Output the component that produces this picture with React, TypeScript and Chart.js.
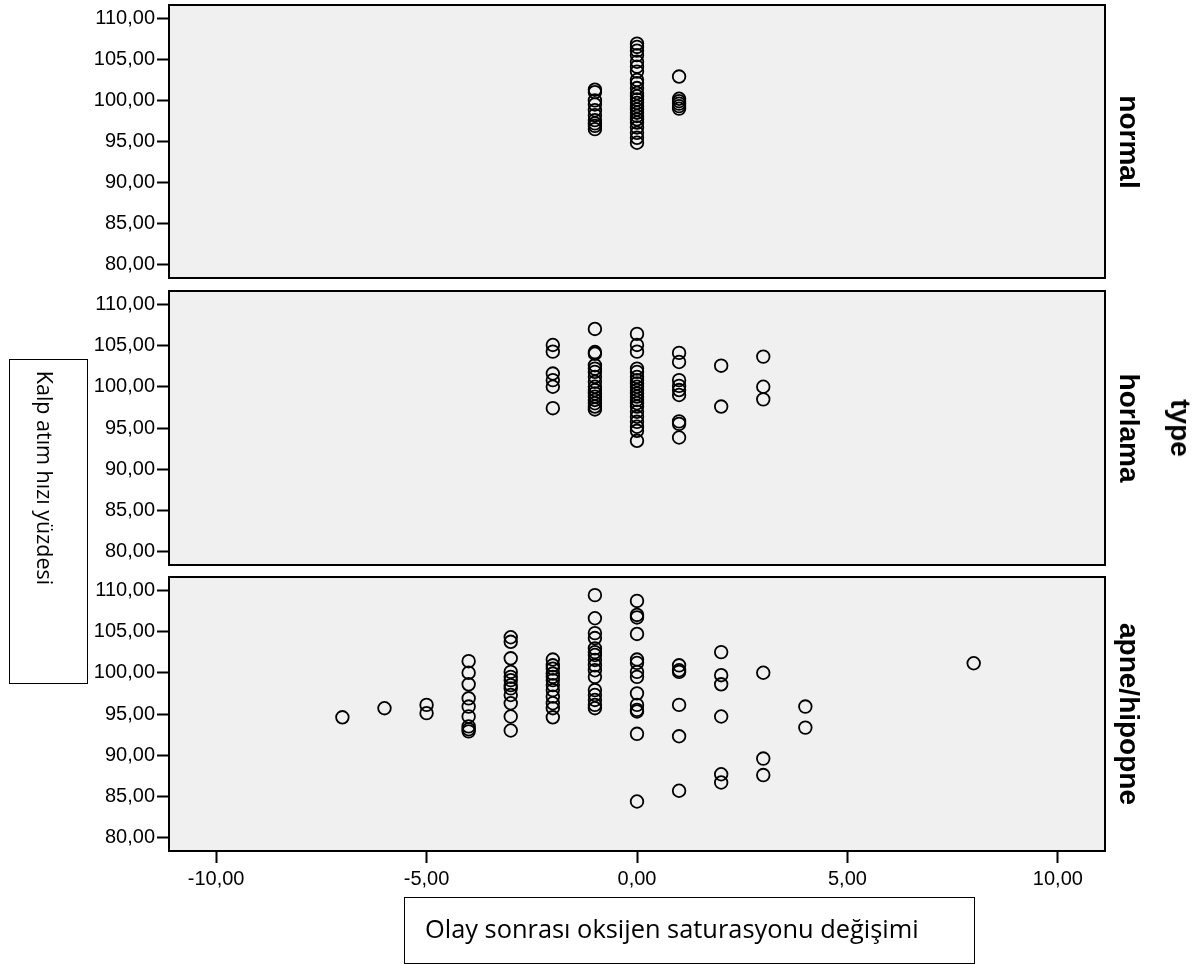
import React, { useEffect, useRef } from "react";
import { Chart, registerables } from "chart.js";

Chart.register(...registerables);

// ---- axis settings / labels ----
const xTickValues = [-10, -5, 0, 5, 10];
const yTickValues = [80, 85, 90, 95, 100, 105, 110];
const xMin = -11.12;
const xMax = 11.12;
const yMin = 78.4;
const yMax = 111.6;
const panelNames = ["normal", "horlama", "apne/hipopne"];
const facetTitle = "type";
const yTitle = "Kalp atım hızı yüzdesi";
const xTitle = "Olay sonrası oksijen saturasyonu değişimi";

// ---- data: x levels and the y values observed at each level ----
const normalX = [-1, 0, 1];
const normalY = [
  [101.3, 101.0, 100.0, 99.5, 98.8, 98.2, 97.6, 97.2, 96.9, 96.5],
  [106.9, 106.5, 106.05, 105.5, 104.7, 104.1, 103.5, 102.5, 102.1, 101.5, 100.9, 100.5, 100.1, 99.7, 99.3, 98.9, 98.5, 98.1, 97.7, 97.3, 96.7, 96.05, 95.45, 94.85],
  [102.9, 100.2, 99.9, 99.6, 99.3, 99.0],
];

const horlamaX = [-2, -1, 0, 1, 2, 3];
const horlamaY = [
  [105.06, 104.25, 101.6, 100.8, 100.0, 97.4],
  [107.0, 104.2, 104.0, 102.6, 102.2, 101.8, 101.2, 100.6, 100.0, 99.6, 99.2, 98.8, 98.4, 98.0, 97.6, 97.25],
  [106.4, 105.06, 104.25, 102.2, 101.8, 101.2, 100.8, 100.4, 100.0, 99.6, 99.2, 98.8, 98.4, 98.0, 97.6, 96.97, 96.36, 95.75, 95.15, 94.66, 93.45],
  [104.1, 103.0, 100.8, 100.1, 99.6, 99.0, 95.8, 95.5, 93.85],
  [102.55, 97.6],
  [103.65, 100.0, 98.47],
];

const apneX = [-7, -6, -5, -4, -3, -2, -1, 0, 1, 2, 3, 4, 8];
const apneY = [
  [94.6],
  [95.7],
  [96.1, 95.1],
  [101.4, 100.0, 98.6, 96.9, 95.9, 94.7, 93.5, 93.15, 92.9],
  [104.3, 103.75, 101.75, 100.1, 99.5, 99.1, 98.5, 98.1, 97.3, 96.3, 94.7, 93.0],
  [101.6, 100.9, 100.5, 99.9, 99.5, 99.1, 98.5, 97.9, 97.1, 96.3, 95.7, 94.6],
  [109.4, 106.6, 104.8, 104.2, 102.95, 102.5, 102.15, 101.55, 100.9, 100.3, 99.5, 97.9, 97.3, 96.7, 96.1, 95.7],
  [108.7, 107.0, 106.7, 104.7, 101.6, 101.2, 100.1, 99.5, 97.5, 96.1, 95.5, 95.3, 92.6, 84.4],
  [100.9, 100.3, 100.1, 96.1, 92.3, 85.7],
  [102.5, 99.7, 98.6, 94.7, 87.7, 86.7],
  [100.0, 89.6, 87.6],
  [95.9, 93.35],
  [101.15],
];

const panelXs = [normalX, horlamaX, apneX];
const panelYs = [normalY, horlamaY, apneY];

// ---- layout ----
const PLOT_LEFT = 169;
const PLOT_RIGHT = 1105;
const PAD_TOP = 16;
const panelTops = [5, 291, 577];
const panelHeights = [273, 274, 274];
const X_AXIS_H = 50;
const TICK_FONT = { family: "'Liberation Sans', Arial, sans-serif", size: 20 };

const fmt = (v: number) => Number(v).toFixed(2).replace(".", ",");

const framePlugin = {
  id: "panelFrame",
  beforeDraw(chart: any) {
    const { ctx, chartArea } = chart;
    ctx.save();
    ctx.fillStyle = "#f0f0f0";
    ctx.fillRect(chartArea.left, chartArea.top, chartArea.right - chartArea.left, chartArea.bottom - chartArea.top);
    ctx.restore();
  },
  afterDraw(chart: any) {
    const { ctx, chartArea } = chart;
    ctx.save();
    ctx.strokeStyle = "#000";
    ctx.lineWidth = 2;
    ctx.strokeRect(chartArea.left, chartArea.top, chartArea.right - chartArea.left, chartArea.bottom - chartArea.top);
    ctx.restore();
  },
};

function Panel({ index }: { index: number }) {
  const ref = useRef<HTMLCanvasElement | null>(null);
  const showX = index === 2;
  const top = panelTops[index] - PAD_TOP;
  const height = showX ? 964 - top : panelHeights[index] + 2 * PAD_TOP;
  const padBottom = showX ? height - PAD_TOP - panelHeights[index] - X_AXIS_H : PAD_TOP;

  useEffect(() => {
    if (!ref.current) return;
    const points: { x: number; y: number }[] = [];
    panelXs[index].forEach((xv, i) => {
      panelYs[index][i].forEach((yv) => points.push({ x: xv, y: yv }));
    });
    const chart = new Chart(ref.current, {
      type: "scatter",
      data: {
        datasets: [
          {
            data: points,
            pointStyle: "circle",
            pointRadius: 6.3,
            pointHoverRadius: 6.3,
            pointBorderWidth: 1.8,
            pointBackgroundColor: "rgba(0,0,0,0)",
            pointBorderColor: "#000",
            showLine: false,
          },
        ],
      },
      options: {
        animation: false,
        responsive: false,
        devicePixelRatio: 1,
        layout: { padding: { left: 0, right: 1200 - PLOT_RIGHT, top: PAD_TOP, bottom: padBottom } },
        plugins: { legend: { display: false }, tooltip: { enabled: false } },
        scales: {
          x: {
            type: "linear",
            display: showX,
            min: xMin,
            max: xMax,
            afterBuildTicks: (scale: any) => {
              scale.ticks = xTickValues.map((v) => ({ value: v }));
            },
            afterFit: (scale: any) => {
              scale.height = showX ? X_AXIS_H : 0;
            },
            border: { display: false },
            grid: { drawOnChartArea: false, drawTicks: true, tickLength: 12, tickWidth: 2, tickColor: "#000", color: "#000" },
            ticks: { color: "#000", font: TICK_FONT, padding: 4, maxRotation: 0, callback: (v: any) => fmt(v) },
          },
          y: {
            type: "linear",
            min: yMin,
            max: yMax,
            afterBuildTicks: (scale: any) => {
              scale.ticks = yTickValues.map((v) => ({ value: v }));
            },
            afterFit: (scale: any) => {
              scale.width = PLOT_LEFT;
            },
            border: { display: false },
            grid: { drawOnChartArea: false, drawTicks: true, tickLength: 12, tickWidth: 2, tickColor: "#000", color: "#000" },
            ticks: { color: "#000", font: TICK_FONT, padding: 2, callback: (v: any) => fmt(v) },
          },
        },
      },
      plugins: [framePlugin],
    } as any);
    return () => chart.destroy();
  }, [index]);

  return (
    <canvas
      ref={ref}
      width={1200}
      height={height}
      style={{ position: "absolute", left: 0, top, width: 1200, height }}
    />
  );
}

const rotLabel = (text: string, cx: number, cy: number, style: React.CSSProperties) => (
  <div
    style={{
      position: "absolute",
      left: cx,
      top: cy,
      transform: "translate(-50%, -50%) rotate(90deg)",
      whiteSpace: "nowrap",
      lineHeight: 1,
      color: "#000",
      ...style,
    }}
  >
    {text}
  </div>
);

export default function App() {
  const stripFont: React.CSSProperties = {
    fontFamily: "'Liberation Sans', Arial, sans-serif",
    fontWeight: "bold",
    fontSize: 28,
  };
  return (
    <div style={{ position: "absolute", left: 0, top: 0, width: 1200, height: 964, overflow: "hidden", background: "#fff" }}>
      <Panel index={0} />
      <Panel index={1} />
      <Panel index={2} />
      {panelNames.map((name, i) =>
        <React.Fragment key={name}>
          {rotLabel(name, 1129, panelTops[i] + panelHeights[i] / 2, stripFont)}
        </React.Fragment>
      )}
      {rotLabel(facetTitle, 1180, 428, stripFont)}
      <div
        style={{
          position: "absolute",
          left: 9,
          top: 359,
          width: 79,
          height: 325,
          border: "1.5px solid #000",
          boxSizing: "border-box",
        }}
      />
      {rotLabel(yTitle, 45, 478, { fontFamily: "'Open Sans', sans-serif", fontSize: 21.5 })}
      <div
        style={{
          position: "absolute",
          left: 404,
          top: 897,
          width: 571,
          height: 67,
          border: "1.5px solid #000",
          boxSizing: "border-box",
        }}
      />
      <div
        style={{
          position: "absolute",
          left: 425,
          top: 929,
          transform: "translateY(-50%)",
          whiteSpace: "nowrap",
          fontFamily: "'Open Sans', sans-serif",
          fontSize: 25.4,
          lineHeight: 1,
          color: "#000",
        }}
      >
        {xTitle}
      </div>
    </div>
  );
}
